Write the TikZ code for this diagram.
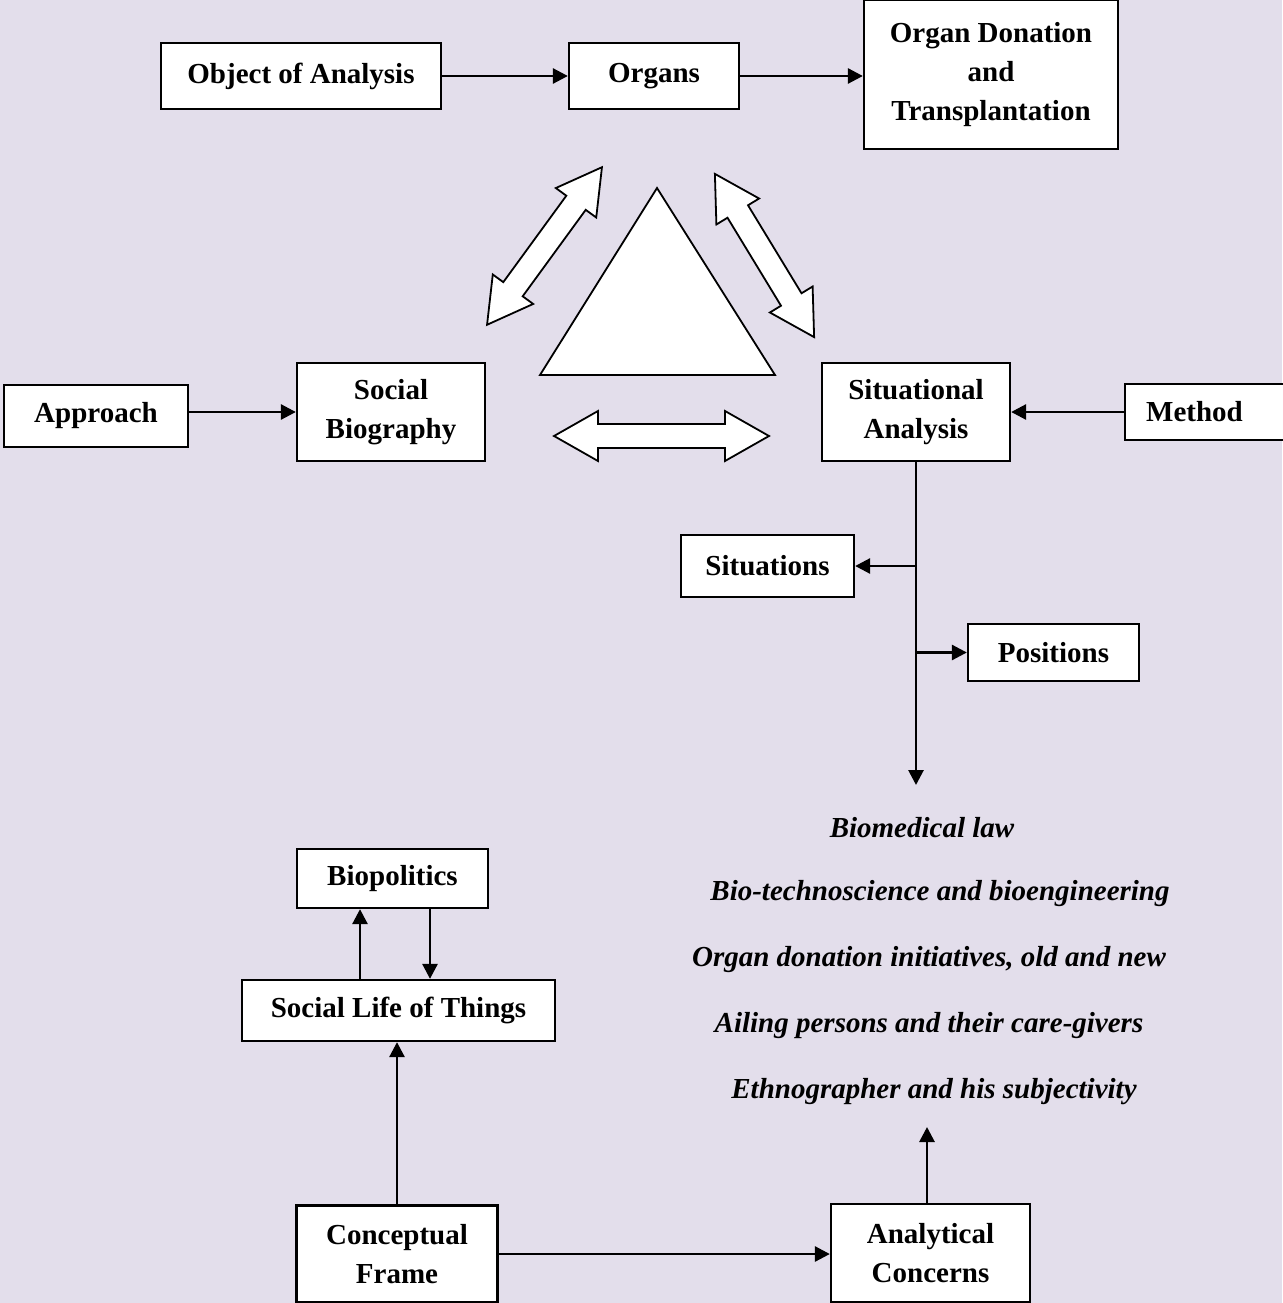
\documentclass[tikz,border=0pt]{standalone}
\usepackage{fontspec}
\setmainfont{Liberation Serif}
\usetikzlibrary{arrows.meta,calc}
\definecolor{bgcol}{RGB}{227,222,235}
\begin{document}
\begin{tikzpicture}[x=1pt,y=-1pt,
  box/.style={draw=black, line width=2.3pt, fill=white, inner sep=0pt, align=center,
    font=\fontsize{29}{39}\selectfont\bfseries},
  arr/.style={line width=2.8pt, -{Triangle[length=15pt,width=15pt]}},
  concern/.style={font=\fontsize{29}{35}\selectfont\bfseries\itshape, inner sep=0pt},
  blockarrow/.style={draw=black, line width=1.8pt, fill=white, line join=miter}]
\useasboundingbox (0,0) rectangle (1282,1303);
\fill[bgcol] (0,0) rectangle (1282,1303);

% central triangle
\draw[line width=1.8pt, fill=white, line join=miter] (657,188) -- (540,375) -- (775,375) -- cycle;

% two-headed block arrows around the triangle
\newcommand{\twoheaded}[3]{%
  \begin{scope}[shift={#1}, rotate=#2]
    \pgfmathsetmacro{\hl}{#3/2}
    \draw[blockarrow] (-\hl,0) -- (-\hl+44,-25) -- (-\hl+44,-12) -- (\hl-44,-12) -- (\hl-44,-25)
      -- (\hl,0) -- (\hl-44,25) -- (\hl-44,12) -- (-\hl+44,12) -- (-\hl+44,25) -- cycle;
  \end{scope}}
\twoheaded{(544.5,246)}{53.9}{195}
\twoheaded{(764.5,255.5)}{-58.7}{191}
\twoheaded{(661.5,436)}{0}{215}

% boxes
\node[box, minimum width=280, minimum height=66] (obj) at (301,76) {Object of Analysis};
\node[box, minimum width=170, minimum height=66] (organs) at (654,76) {Organs};
\node[box, minimum width=254, minimum height=149] (odt) at (991,74.5) {Organ Donation\\and\\Transplantation};
\node[box, minimum width=184, minimum height=62] (appr) at (96,416) {Approach};
\node[box, minimum width=188, minimum height=98] (sbio) at (391,412) {Social\\Biography};
\node[box, minimum width=188, minimum height=98] (sit) at (916,412) {Situational\\Analysis};
\node[box, anchor=west, minimum height=56, text width=150pt, align=left, inner xsep=21pt] (meth) at (1124,412) {Method};
\node[box, minimum width=173, minimum height=62] (sits) at (767.5,566) {Situations};
\node[box, minimum width=171, minimum height=57] (pos) at (1053.5,652.5) {Positions};
\node[box, minimum width=191, minimum height=59] (biop) at (392.5,878.5) {Biopolitics};
\node[box, minimum width=313, minimum height=61] (slot) at (398.5,1010.5) {Social Life of Things};
\node[box, minimum width=201, minimum height=97] (cf) at (397,1254) {Conceptual\\Frame};
\node[box, minimum width=199, minimum height=98] (ac) at (930.5,1253) {Analytical\\Concerns};

% analytical concerns listed
\node[concern] (law) at (922,828) {Biomedical law};
\node[concern] (tech) at (940,894) {Bio-technoscience and bioengineering};
\node[concern] (init) at (929,960) {Organ donation initiatives, old and new};
\node[concern] (ail) at (929,1026) {Ailing persons and their care-givers};
\node[concern] (eth) at (934,1092) {Ethnographer and his subjectivity};

% loose ends of connectors
\coordinate (lawtop) at (916,785);
\coordinate (ethbot) at (927,1127);

% connectors
\draw[arr] (obj.east) -- (organs.west);
\draw[arr] (organs.east) -- (organs.east -| odt.west);
\draw[arr] (appr.east |- sbio.west) -- (sbio.west);
\draw[arr] (meth.west) -- (sit.east);
\draw[arr] (sit.south) -- (lawtop);
\draw[arr] (sit.south |- sits.east) -- (sits.east);
\draw[arr] (sit.south |- pos.west) -- (pos.west);
\draw[arr] ([xshift=-32.5pt]biop.south |- slot.north) -- ([xshift=-32.5pt]biop.south);
\draw[arr] ([xshift=37.5pt]biop.south) -- ([xshift=37.5pt]biop.south |- slot.north);
\draw[arr] (cf.north) -- (cf.north |- slot.south);
\draw[arr] (cf.east) -- (cf.east -| ac.west);
\draw[arr] (ac.north -| ethbot) -- (ethbot);
\end{tikzpicture}
\end{document}
